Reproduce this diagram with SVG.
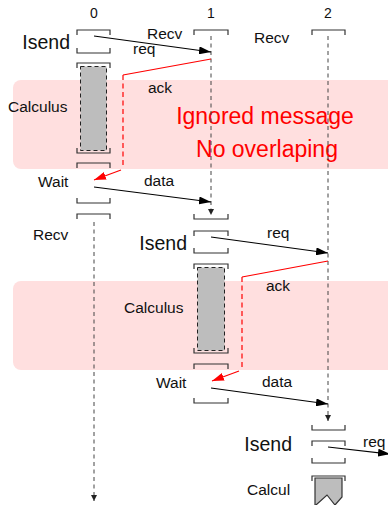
<svg xmlns="http://www.w3.org/2000/svg" width="388" height="505" viewBox="0 0 388 505">
  <style>
    text { font-family: "Liberation Sans", Arial, sans-serif; fill: #111; }
    .num { font-size: 14px; text-anchor: middle; }
    .lbl { font-size: 15.5px; }
    .big { font-size: 19.5px; }
    .note { font-size: 23px; fill: #ff0000; text-anchor: middle; }
    .zone { fill: #ffdfdf; stroke: none; }
    .br { fill: none; stroke: #333; stroke-width: 1.2; }
    .life { fill: none; stroke: #444; stroke-width: 1; stroke-dasharray: 4 3.5; }
    .calc { fill: #bdbdbd; stroke: #222; stroke-width: 1; stroke-dasharray: 4 3; }
    .msg { fill: none; stroke: #000; stroke-width: 1.2; }
    .ack { fill: none; stroke: #ff0000; stroke-width: 1.2; }
    .ackd { fill: none; stroke: #ff0000; stroke-width: 1.2; stroke-dasharray: 5 3.5; }
  </style>
  <defs>
    <marker id="arr" viewBox="0 0 12 8" refX="12" refY="4" markerWidth="12" markerHeight="8" markerUnits="userSpaceOnUse" orient="auto">
      <path d="M0,0 L12,4 L0,8 Z" fill="#000"/>
    </marker>
    <marker id="arrRed" viewBox="0 0 12 8" refX="12" refY="4" markerWidth="12" markerHeight="8" markerUnits="userSpaceOnUse" orient="auto">
      <path d="M0,0 L12,4 L0,8 Z" fill="#ff0000"/>
    </marker>
    <marker id="tip" viewBox="0 0 6 6" refX="6" refY="3" markerWidth="6" markerHeight="6" markerUnits="userSpaceOnUse" orient="auto">
      <path d="M0,0 L6,3 L0,6 Z" fill="#222"/>
    </marker>
  </defs>

  <!-- shaded zones where the late ack is ignored -->
  <g id="zones">
    <rect class="zone" x="13" y="80" width="390" height="89" rx="8"/>
    <rect class="zone" x="13" y="281" width="390" height="89" rx="8"/>
  </g>

  <g id="note">
    <text class="note" x="265" y="124">Ignored message</text>
    <text class="note" x="267" y="157">No overlaping</text>
  </g>

  <!-- process 0 -->
  <g id="proc0">
    <text class="num" x="94" y="18">0</text>
    <text class="big" x="70" y="49" text-anchor="end">Isend</text>
    <path class="br" d="M77,35 V30 H110 V35"/>
    <path class="br" d="M77,48 V53 H110 V48"/>
    <path class="br" d="M77,68 V63 H110 V68"/>
    <rect class="calc" x="80.5" y="66.5" width="26" height="84"/>
    <path class="br" d="M77,148 V153 H110 V148"/>
    <text class="lbl" x="8" y="112">Calculus</text>
    <path class="br" d="M77,168 V163 H110 V168"/>
    <path class="br" d="M77,198 V203 H110 V198"/>
    <text class="lbl" x="38" y="187">Wait</text>
    <path class="br" d="M77,219 V214 H110 V219"/>
    <text class="lbl" x="33" y="240">Recv</text>
    <path class="life" d="M94,222 V501" stroke="#777" marker-end="url(#tip)"/>
  </g>

  <!-- process 1 -->
  <g id="proc1">
    <text class="num" x="211" y="18">1</text>
    <text class="lbl" x="147" y="39">Recv</text>
    <path class="br" d="M194,35 V30 H228 V35"/>
    <path class="life" d="M211,36 V215" marker-end="url(#tip)"/>
    <path class="br" d="M194,214 V219 H228 V214"/>
    <text class="big" x="187" y="250" text-anchor="end">Isend</text>
    <path class="br" d="M194,236 V231 H228 V236"/>
    <path class="br" d="M194,248 V253 H228 V248"/>
    <path class="br" d="M194,269 V264 H228 V269"/>
    <rect class="calc" x="197.5" y="267.5" width="27" height="83"/>
    <path class="br" d="M194,348 V353 H228 V348"/>
    <text class="lbl" x="124" y="313">Calculus</text>
    <path class="br" d="M194,369 V364 H228 V369"/>
    <path class="br" d="M194,398 V403 H228 V398"/>
    <text class="lbl" x="156" y="388">Wait</text>
  </g>

  <!-- process 2 -->
  <g id="proc2">
    <text class="num" x="328" y="18">2</text>
    <text class="lbl" x="254" y="43">Recv</text>
    <path class="br" d="M312,35 V30 H345 V35"/>
    <path class="life" d="M328,36 V421" marker-end="url(#tip)"/>
    <path class="br" d="M312,425 V430 H345 V425"/>
    <text class="big" x="292" y="451" text-anchor="end">Isend</text>
    <path class="br" d="M312,446 V441 H345 V446"/>
    <path class="br" d="M312,458 V463 H345 V458"/>
    <path class="br" d="M312,481 V476 H345 V481"/>
    <path d="M315,478 H342 V497 L335,505 L327,495 L316,505 H315 Z" fill="#bdbdbd" stroke="#333" stroke-width="1.2"/>
    <text class="lbl" x="247" y="495">Calcul</text>
  </g>

  <!-- messages between processes -->
  <g id="connectors">
    <path class="msg" d="M94,36 L211,52" marker-end="url(#arr)"/>
    <text class="lbl" x="133" y="54">req</text>

    <path class="ack" d="M211,59 L123,75"/>
    <path class="ackd" d="M123,75 V166"/>
    <path class="ack" d="M121,170 L94,180" marker-end="url(#arrRed)"/>
    <text class="lbl" x="148" y="93">ack</text>

    <path class="msg" d="M94,187 L211,202" marker-end="url(#arr)"/>
    <text class="lbl" x="144" y="186">data</text>

    <path class="msg" d="M211,237 L328,253" marker-end="url(#arr)"/>
    <text class="lbl" x="267" y="238">req</text>

    <path class="ack" d="M328,261 L242,277"/>
    <path class="ackd" d="M242,277 V367"/>
    <path class="ack" d="M239,371 L212,381" marker-end="url(#arrRed)"/>
    <text class="lbl" x="266" y="291">ack</text>

    <path class="msg" d="M211,388 L328,404" marker-end="url(#arr)"/>
    <text class="lbl" x="262" y="387">data</text>

    <path class="msg" d="M328,447 L390,454" marker-end="url(#arr)"/>
    <text class="lbl" x="363" y="447">req</text>
  </g>
</svg>
